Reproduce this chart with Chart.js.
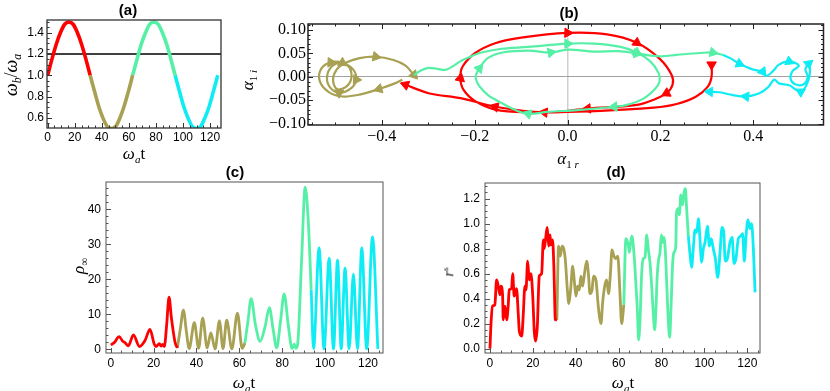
<!DOCTYPE html>
<html>
<head>
<meta charset="utf-8">
<script src="https://cdn.jsdelivr.net/npm/chart.js@4.4.0/dist/chart.umd.min.js"></script>
<style>
    html, body { margin: 0; padding: 0; background: #fff; }
    #fig { position: relative; width: 830px; height: 391px; overflow: hidden; font-family: "Liberation Serif", "DejaVu Serif", serif; }
    .panel { position: absolute; }
    .panel canvas { display: block; }
    .lbl { position: absolute; white-space: nowrap; line-height: 1; transform: translate(-50%, -50%); color: #000; }
    .rot { transform: translate(-50%, -50%) rotate(-90deg); }
    .ttl { font-family: "Liberation Sans", Arial, sans-serif; font-weight: bold; font-size: 15px; }
    .ax { font-size: 17px; }
    .ax sub { font-size: 65%; vertical-align: -0.35em; }
    .ax sup { font-size: 65%; vertical-align: 0.6em; }
</style>
</head>
<body>
<div id="fig">
    <div class="panel" id="boxA"><canvas id="chartA"></canvas></div>
    <div class="panel" id="boxB"><canvas id="chartB"></canvas></div>
    <div class="panel" id="boxC"><canvas id="chartC"></canvas></div>
    <div class="panel" id="boxD"><canvas id="chartD"></canvas></div>

    <div class="lbl ttl" style="left:128px;top:9px">(a)</div>
    <div class="lbl ttl" style="left:569px;top:12px">(b)</div>
    <div class="lbl ttl" style="left:235px;top:171px">(c)</div>
    <div class="lbl ttl" style="left:616px;top:171px">(d)</div>

    <div class="lbl ax rot" style="left:13px;top:75px;font-size:18px"><i>ω</i><sub><i>b</i></sub>/<i>ω</i><sub><i>a</i></sub></div>
    <div class="lbl ax" style="left:134px;top:155px"><i>ω</i><sub><i>a</i></sub>t</div>
    <div class="lbl ax rot" style="left:249px;top:80px"><i>α</i><sub>1 <i>i</i></sub></div>
    <div class="lbl ax" style="left:568px;top:160px"><i>α</i><sub>1 <i>r</i></sub></div>
    <div class="lbl ax rot" style="left:80px;top:266px"><i>ρ</i><sub>∞</sub></div>
    <div class="lbl ax" style="left:244px;top:384px"><i>ω</i><sub><i>a</i></sub>t</div>
    <div class="lbl ax rot" style="left:449px;top:272px;font-size:14px"><i>r</i><sup>s</sup></div>
    <div class="lbl ax" style="left:623px;top:384px"><i>ω</i><sub><i>a</i></sub>t</div>
</div>

<script>
// ---- data -------------------------------------------------------------

const SEG_COLORS = ['#ff0000', '#a8a052', '#55f0a6', '#10ecf4'];

// (a) frequency ratio against time
const A_T = [0, 3.1, 6.3, 9.4, 12.6, 15.7, 18.8, 22.0, 25.1, 28.3, 31.4, 34.6, 37.7, 40.8, 44.0, 47.1, 50.3, 53.4, 56.5, 59.7,
    62.8, 66.0, 69.1, 72.3, 75.4, 78.5, 81.7, 84.8, 88.0, 91.1, 94.2, 97.4, 100.5, 103.7, 106.8, 110.0, 113.1, 116.2, 119.4, 122.5, 125.7];
const A_W = [1.00, 1.15, 1.29, 1.40, 1.48, 1.50, 1.48, 1.40, 1.29, 1.15, 1.00, 0.85, 0.71, 0.60, 0.52, 0.50, 0.52, 0.60, 0.71, 0.85,
    1.00, 1.15, 1.29, 1.40, 1.48, 1.50, 1.48, 1.40, 1.29, 1.15, 1.00, 0.85, 0.71, 0.60, 0.52, 0.50, 0.52, 0.60, 0.71, 0.85, 1.00];
const A_SEG_BOUNDS = [0, 10, 20, 30, 40];
const A_LEVEL = 1.2;
const A_X_TICKS = [0, 20, 40, 60, 80, 100, 120];
const A_X_LABELS = ['0', '20', '40', '60', '80', '100', '120'];
const A_Y_TICKS = [0.6, 0.8, 1.0, 1.2, 1.4];
const A_Y_LABELS = ['0.6', '0.8', '1.0', '1.2', '1.4'];

// (b) phase-space trajectory, one path per colour
const B_RED_X = [0.310, 0.310, 0.302, 0.277, 0.235, 0.185, 0.100, 0.000, -0.085, -0.156, -0.199, -0.224, -0.231, -0.226, -0.199, -0.156,
    -0.100, 0.000, 0.085, 0.149, 0.199, 0.224, 0.226, 0.213, 0.185, 0.149, 0.043, -0.050, -0.156, -0.228, -0.299, -0.349];
const B_RED_Y = [0.026, 0.000, -0.021, -0.042, -0.058, -0.066, -0.071, -0.075, -0.076, -0.070, -0.052, -0.028, -0.003, 0.022, 0.051, 0.072,
    0.084, 0.094, 0.091, 0.073, 0.038, 0.004, -0.017, -0.035, -0.049, -0.060, -0.068, -0.076, -0.064, -0.046, -0.035, -0.017];
const B_RED_ARROWS = [0, 12, 17, 19, 23, 26, 27, 28, 31];

const B_OLV_X = [-0.356, -0.372, -0.406, -0.448, -0.485, -0.515, -0.534, -0.530, -0.510, -0.485, -0.462, -0.455, -0.468, -0.492, -0.512,
    -0.518, -0.508, -0.488, -0.470, -0.466, -0.478, -0.497, -0.505, -0.497, -0.478, -0.448, -0.413, -0.375, -0.349, -0.331];
const B_OLV_Y = [-0.006, -0.014, -0.026, -0.038, -0.042, -0.032, -0.008, 0.018, 0.031, 0.030, 0.016, -0.006, -0.026, -0.034, -0.022,
    0.000, 0.022, 0.030, 0.020, -0.004, -0.022, -0.026, -0.006, 0.016, 0.030, 0.040, 0.043, 0.036, 0.024, 0.004];
const B_OLV_ARROWS = [2, 8, 9, 11, 13, 26, 29];

const B_AQU_X = [-0.331, -0.315, -0.299, -0.280, -0.263, -0.245, -0.228, -0.205, -0.185, -0.142, -0.085, 0.000, 0.057, 0.114, 0.149,
    0.178, 0.196, 0.198, 0.188, 0.164, 0.128, 0.100, 0.021, -0.043, -0.085, -0.115, -0.142, -0.170, -0.190, -0.198, -0.190, -0.172,
    -0.140, -0.085, -0.036, 0.000, 0.057, 0.110, 0.149, 0.199, 0.235, 0.285, 0.313, 0.334];
const B_AQU_Y = [0.004, 0.014, 0.019, 0.017, 0.015, 0.024, 0.035, 0.045, 0.052, 0.060, 0.064, 0.071, 0.071, 0.064, 0.052,
    0.033, 0.008, -0.010, -0.026, -0.046, -0.060, -0.064, -0.071, -0.075, -0.079, -0.070, -0.056, -0.040, -0.020, 0.000, 0.018, 0.040,
    0.052, 0.056, 0.052, 0.058, 0.054, 0.055, 0.050, 0.044, 0.047, 0.051, 0.052, 0.047];
const B_AQU_ARROWS = [11, 14, 21, 24, 30, 34, 38, 42];

const B_CYN_X = [0.334, 0.350, 0.370, 0.398, 0.420, 0.427, 0.441, 0.455, 0.477, 0.498, 0.484, 0.480, 0.490, 0.508, 0.517,
    0.512, 0.519, 0.522, 0.516, 0.502, 0.477, 0.455, 0.445, 0.432, 0.413, 0.384, 0.356, 0.327, 0.306];
const B_CYN_Y = [0.047, 0.040, 0.028, 0.016, 0.011, 0.002, 0.011, 0.026, 0.033, 0.024, 0.012, -0.004, -0.016, -0.016, 0.000,
    0.016, 0.028, 0.010, -0.014, -0.032, -0.018, -0.014, -0.006, -0.022, -0.035, -0.042, -0.039, -0.033, -0.032];
const B_CYN_ARROWS = [2, 4, 8, 16, 19, 25, 28];

const B_X_TICKS = [-0.4, -0.2, 0, 0.2, 0.4];
const B_X_LABELS = ['\u22120.4', '\u22120.2', '0.0', '0.2', '0.4'];
const B_Y_TICKS = [-0.10, -0.05, 0, 0.05, 0.10];
const B_Y_LABELS = ['\u22120.10', '\u22120.05', '0.00', '0.05', '0.10'];

// (c) rho_inf against time
const C_RED_T = [0.1, 1.8, 3.9, 5.6, 6.7, 8.2, 10.6, 13.4, 16.0, 18.3, 20.3, 21.1, 22.7, 23.5, 24.2, 25.0, 26.1, 27.2, 28.3, 30.0, 31.1];
const C_RED_V = [1.2, 2.0, 3.6, 2.3, 1.9, 1.0, 4.1, 0.8, 2.5, 5.7, 1.5, 0.8, 1.6, 0.9, 1.4, 0.8, 7.0, 14.9, 9.0, 2.0, 0.4];
const C_OLV_T = [31.1, 32.5, 33.9, 35.3, 36.6, 39.0, 41.0, 42.9, 45.0, 46.7, 48.7, 50.7, 52.4, 54.1, 56.5, 59.1, 61.3, 62.6];
const C_OLV_V = [0.4, 6.0, 11.2, 5.0, 0.2, 7.6, 0.3, 8.9, 0.4, 4.7, 0.1, 8.1, 0.2, 8.3, 0.1, 10.3, 0.3, 1.8];
const C_AQU_T = [62.6, 64.0, 65.5, 67.5, 69.7, 72.0, 74.0, 75.8, 77.4, 79.2, 80.9, 82.8, 84.6, 85.6, 86.4, 87.2, 89.0, 90.7, 92.2, 93.5];
const C_AQU_V = [1.8, 8.0, 14.5, 7.0, 2.3, 6.5, 11.9, 5.5, 0.4, 8.0, 15.8, 7.0, 0.2, 1.5, 0.3, 1.5, 25.0, 46.3, 36.0, 17.0];
const C_CYN_T = [93.5, 94.6, 97.2, 99.5, 101.9, 103.9, 105.8, 107.5, 109.3, 111.2, 113.2, 115.1, 117.1, 119.4, 122.1, 124.6];
const C_CYN_V = [17.0, 0.2, 29.0, 0.1, 26.0, 0.1, 25.5, 0.1, 23.2, 0.1, 21.5, 0.1, 29.0, 0.1, 32.1, 0.1];
const C_X_TICKS = [0, 20, 40, 60, 80, 100, 120];
const C_X_LABELS = ['0', '20', '40', '60', '80', '100', '120'];
const C_Y_TICKS = [0, 10, 20, 30, 40];
const C_Y_LABELS = ['0', '10', '20', '30', '40'];

// (d) r^s against time
const D_RED_T = [0, 0.5, 1.2, 2.3, 3.1, 3.9, 4.7, 5.1, 5.9, 6.2, 7.0, 7.8, 8.5, 9.0, 10.1, 10.6, 11.3, 12.4, 13.2, 13.7, 14.8, 15.5,
    16.3, 16.8, 17.6, 18.3, 19.1, 19.9, 20.7, 21.3, 22.1, 23.0, 24.1, 24.9, 25.3, 26.1, 26.7, 27.4, 28.0, 28.4, 29.2, 29.8, 30.5, 31.2];
const D_RED_V = [0.00, 0.20, 0.34, 0.35, 0.55, 0.50, 0.43, 0.50, 0.43, 0.23, 0.34, 0.23, 0.34, 0.47, 0.48, 0.60, 0.42, 0.48, 0.28, 0.14,
    0.10, 0.26, 0.50, 0.47, 0.70, 0.55, 0.60, 0.44, 0.13, 0.06, 0.18, 0.58, 0.60, 0.87, 0.80, 0.90, 0.97, 0.82, 0.91, 0.83, 0.87, 0.66, 0.23, 0.23];
const D_OLV_T = [31.2, 32.0, 32.8, 33.6, 34.4, 35.1, 36.1, 36.8, 37.6, 38.6, 39.3, 40.1, 40.9, 41.7, 42.4, 43.2, 44.0, 45.1, 46.0,
    46.6, 47.6, 48.3, 49.4, 50.5, 51.3, 51.8, 52.5, 53.5, 54.4, 55.3, 56.1, 56.9, 57.8, 58.6, 59.6, 60.6, 61.4, 62.4];
const D_OLV_V = [0.23, 0.82, 0.74, 0.82, 0.80, 0.72, 0.47, 0.36, 0.47, 0.66, 0.55, 0.42, 0.50, 0.47, 0.58, 0.50, 0.59, 0.70, 0.58,
    0.44, 0.47, 0.58, 0.55, 0.34, 0.23, 0.20, 0.36, 0.50, 0.55, 0.44, 0.58, 0.79, 0.74, 0.72, 0.74, 0.45, 0.20, 0.35];
const D_AQU_T = [62.4, 63.4, 64.5, 65.0, 65.6, 66.2, 67.2, 68.1, 68.7, 69.3, 70.0, 70.7, 71.5, 72.3, 73.1, 73.8, 74.6, 75.4, 76.2,
    76.8, 77.4, 78.0, 78.7, 79.3, 79.9, 80.5, 81.1, 81.8, 82.4, 83.2, 83.8, 84.4, 85.2, 85.8, 86.6, 87.0, 87.8, 88.3, 89.0, 89.8,
    90.5, 91.1, 91.7, 92.5];
const D_AQU_V = [0.35, 0.88, 0.83, 0.77, 0.85, 0.90, 0.75, 0.50, 0.32, 0.07, 0.24, 0.59, 0.72, 0.73, 0.91, 0.80, 0.69, 0.50, 0.27,
    0.15, 0.32, 0.59, 0.72, 0.77, 0.91, 0.85, 0.89, 0.77, 0.53, 0.21, 0.09, 0.32, 0.69, 0.77, 0.81, 1.09, 1.12, 1.07, 1.23, 1.15,
    1.25, 1.28, 1.12, 0.90];
const D_CYN_T = [92.5, 93.3, 94.0, 94.8, 95.6, 96.4, 97.2, 97.9, 98.7, 99.5, 100.3, 101.4, 102.3, 103.2, 104.1, 105.1, 106.2, 107.3,
    108.2, 109.0, 109.7, 110.7, 111.9, 112.9, 113.8, 114.7, 115.8, 116.9, 117.8, 118.6, 119.4, 120.3, 121.2, 122.0, 122.8, 123.6];
const D_CYN_V = [0.90, 0.75, 0.65, 0.80, 0.95, 0.93, 1.04, 0.88, 0.69, 0.80, 0.85, 0.98, 0.82, 0.88, 0.80, 0.72, 0.57, 0.78,
    0.97, 0.93, 0.70, 0.72, 0.85, 0.89, 0.68, 0.72, 0.88, 0.90, 0.92, 0.70, 0.90, 1.03, 0.96, 1.00, 0.80, 0.45];
const D_X_TICKS = [0, 20, 40, 60, 80, 100, 120];
const D_X_LABELS = ['0', '20', '40', '60', '80', '100', '120'];
const D_Y_TICKS = [0.0, 0.2, 0.4, 0.6, 0.8, 1.0, 1.2];
const D_Y_LABELS = ['0.0', '0.2', '0.4', '0.6', '0.8', '1.0', '1.2'];

// ---- helpers ----------------------------------------------------------

Chart.defaults.font.family = '"Liberation Sans", Arial, sans-serif';
Chart.defaults.color = '#000';

const SANS12 = { family: '"Liberation Sans", Arial, sans-serif', size: 12 };
const SERIF16 = { family: '"Liberation Serif", "Times New Roman", serif', size: 16 };

function points(xs, ys) {
    return xs.map((x, i) => ({ x: x, y: ys[i] }));
}

function curve(data, color, width, smooth) {
    return {
        data: data,
        borderColor: color,
        backgroundColor: color,
        borderWidth: width,
        pointRadius: 0,
        fill: false,
        cubicInterpolationMode: smooth ? 'default' : 'monotone',
        tension: smooth ? 0.35 : 0.4
    };
}

// arrowheads sit on path vertices, turned along the path in pixel space
function arrowheads(xs, ys, idx, color) {
    return {
        data: idx.map(i => ({ x: xs[i], y: ys[i] })),
        showLine: false,
        pointStyle: 'triangle',
        pointRadius: 5.5,
        pointHoverRadius: 5.5,
        pointBorderWidth: 1,
        pointBackgroundColor: color,
        pointBorderColor: color,
        pointRotation: (ctx) => {
            const sx = ctx.chart.scales.x, sy = ctx.chart.scales.y;
            const i = idx[ctx.dataIndex];
            const j = i < xs.length - 1 ? i : i - 1;
            const dx = sx.getPixelForValue(xs[j + 1]) - sx.getPixelForValue(xs[j]);
            const dy = sy.getPixelForValue(ys[j + 1]) - sy.getPixelForValue(ys[j]);
            return Math.atan2(dy, dx) * 180 / Math.PI + 90;
        }
    };
}

function scaleOptions(ax, size, horizontal) {
    return {
        type: 'linear',
        position: horizontal ? 'bottom' : 'left',
        min: ax.min,
        max: ax.max,
        grid: {
            display: !!ax.zeroLine,
            drawTicks: false,
            color: (ctx) => (ax.zeroLine && ctx.tick && ctx.tick.value === 0) ? ax.zeroLine.color : 'rgba(0,0,0,0)',
            lineWidth: ax.zeroLine ? ax.zeroLine.width : 1
        },
        border: { display: false },
        ticks: {
            autoSkip: false,
            maxRotation: 0,
            padding: ax.pad,
            font: ax.font,
            color: '#000',
            callback: (v, i) => ax.labels[i]
        },
        afterBuildTicks: (s) => { s.ticks = ax.values.map(v => ({ value: v })); },
        afterFit: (s) => {
            if (horizontal) s.height = size; else s.width = size;
            s.paddingLeft = 0; s.paddingRight = 0; s.paddingTop = 0; s.paddingBottom = 0;
        }
    };
}

// Mathematica-like frame with inward ticks
function frameTicks(f) {
    return {
        id: 'frameTicks',
        afterDatasetsDraw(chart) {
            const { ctx, chartArea: a, scales: { x, y } } = chart;
            const has = (side) => f.sides.indexOf(side) >= 0;
            const range = (scale, step) => {
                const out = [];
                for (let k = Math.ceil(scale.min / step - 1e-9); k * step <= scale.max + 1e-9; k++) out.push(k * step);
                return out;
            };
            const mark = (values, len, horizontal) => {
                values.forEach(v => {
                    if (horizontal) {
                        const p = Math.round(x.getPixelForValue(v)) + 0.5;
                        if (has('bottom')) { ctx.moveTo(p, a.bottom); ctx.lineTo(p, a.bottom - len); }
                        if (has('top')) { ctx.moveTo(p, a.top); ctx.lineTo(p, a.top + len); }
                    } else {
                        const p = Math.round(y.getPixelForValue(v)) + 0.5;
                        if (has('left')) { ctx.moveTo(a.left, p); ctx.lineTo(a.left + len, p); }
                        if (has('right')) { ctx.moveTo(a.right, p); ctx.lineTo(a.right - len, p); }
                    }
                });
            };
            ctx.save();
            ctx.strokeStyle = f.color;
            ctx.lineWidth = 1;
            ctx.beginPath();
            mark(range(x, f.xMinor), 2.5, true);
            mark(range(y, f.yMinor), 2.5, false);
            mark(x.ticks.map(t => t.value), 5, true);
            mark(y.ticks.map(t => t.value), 5, false);
            ctx.stroke();
            ctx.lineWidth = f.width;
            ctx.strokeRect(a.left, a.top, a.right - a.left, a.bottom - a.top);
            ctx.restore();
        }
    };
}

class FramedPanel {
    constructor(id, box, area, axes, datasets, frame) {
        const holder = document.getElementById('box' + id);
        holder.style.left = box.left + 'px';
        holder.style.top = box.top + 'px';
        const canvas = document.getElementById('chart' + id);
        canvas.width = box.width;
        canvas.height = box.height;

        this.chart = new Chart(canvas.getContext('2d'), {
            type: 'line',
            data: { datasets: datasets },
            options: {
                responsive: false,
                animation: false,
                devicePixelRatio: 1,
                layout: {
                    padding: {
                        left: 0,
                        bottom: 0,
                        top: area.top - box.top,
                        right: box.left + box.width - area.right
                    }
                },
                plugins: { legend: { display: false }, tooltip: { enabled: false } },
                scales: {
                    x: scaleOptions(axes.x, box.top + box.height - area.bottom, true),
                    y: scaleOptions(axes.y, area.left - box.left, false)
                }
            },
            plugins: [frameTicks(frame)]
        });
    }
}

function coloured(tsList, vsList, width) {
    return tsList.map((ts, k) => curve(points(ts, vsList[k]), SEG_COLORS[k], width, false));
}

// ---- panels -----------------------------------------------------------

const aSets = [];
for (let k = 0; k < 4; k++) {
    const s = A_SEG_BOUNDS[k], e = A_SEG_BOUNDS[k + 1] + 1;
    aSets.push(curve(points(A_T.slice(s, e), A_W.slice(s, e)), SEG_COLORS[k], 3.6, false));
}
const A_X_MIN = -0.5, A_X_MAX = 128.1;
aSets.push(Object.assign(curve([{ x: A_X_MIN, y: A_LEVEL }, { x: A_X_MAX, y: A_LEVEL }], '#000', 1.4, false), { tension: 0 }));

new FramedPanel('A',
    { left: 0, top: 0, width: 232, height: 170 },
    { left: 47, top: 20, right: 221, bottom: 128 },
    {
        x: { min: A_X_MIN, max: A_X_MAX, values: A_X_TICKS, labels: A_X_LABELS, font: SANS12, pad: 2 },
        y: { min: 0.505, max: 1.52, values: A_Y_TICKS, labels: A_Y_LABELS, font: SANS12, pad: 3 }
    },
    aSets,
    { color: '#333', width: 1.3, sides: ['left', 'bottom'], xMinor: 5, yMinor: 0.05 });

const bPaths = [[B_RED_X, B_RED_Y, B_RED_ARROWS], [B_OLV_X, B_OLV_Y, B_OLV_ARROWS],
    [B_AQU_X, B_AQU_Y, B_AQU_ARROWS], [B_CYN_X, B_CYN_Y, B_CYN_ARROWS]];
const bSets = [];
[2, 3, 1, 0].forEach(k => {
    const p = bPaths[k];
    bSets.push(curve(points(p[0], p[1]), SEG_COLORS[k], 2.2, true));
    bSets.push(arrowheads(p[0], p[1], p[2], SEG_COLORS[k]));
});

new FramedPanel('B',
    { left: 228, top: 0, width: 602, height: 170 },
    { left: 308, top: 24, right: 828, bottom: 125 },
    {
        x: { min: -0.559, max: 0.551, values: B_X_TICKS, labels: B_X_LABELS, font: SERIF16, pad: 2, zeroLine: { color: '#cfcfcf', width: 1.5 } },
        y: { min: -0.103, max: 0.113, values: B_Y_TICKS, labels: B_Y_LABELS, font: SERIF16, pad: 2, zeroLine: { color: '#a0a0a0', width: 1 } }
    },
    bSets,
    { color: '#222', width: 1.5, sides: ['left', 'bottom', 'right', 'top'], xMinor: 0.05, yMinor: 0.01 });

new FramedPanel('C',
    { left: 60, top: 170, width: 330, height: 221 },
    { left: 106, top: 182, right: 383, bottom: 353 },
    {
        x: { min: -2.2, max: 127.0, values: C_X_TICKS, labels: C_X_LABELS, font: SANS12, pad: 3 },
        y: { min: -1.06, max: 47.8, values: C_Y_TICKS, labels: C_Y_LABELS, font: SANS12, pad: 5 }
    },
    coloured([C_RED_T, C_OLV_T, C_AQU_T, C_CYN_T], [C_RED_V, C_OLV_V, C_AQU_V, C_CYN_V], 2.8),
    { color: '#555', width: 1, sides: ['left', 'bottom'], xMinor: 5, yMinor: 2 });

new FramedPanel('D',
    { left: 440, top: 170, width: 330, height: 221 },
    { left: 485, top: 183, right: 760, bottom: 353 },
    {
        x: { min: -2.3, max: 125.9, values: D_X_TICKS, labels: D_X_LABELS, font: SANS12, pad: 3 },
        y: { min: -0.035, max: 1.325, values: D_Y_TICKS, labels: D_Y_LABELS, font: SANS12, pad: 5 }
    },
    coloured([D_RED_T, D_OLV_T, D_AQU_T, D_CYN_T], [D_RED_V, D_OLV_V, D_AQU_V, D_CYN_V], 2.8),
    { color: '#555', width: 1, sides: ['left', 'bottom'], xMinor: 5, yMinor: 0.05 });
</script>
</body>
</html>
